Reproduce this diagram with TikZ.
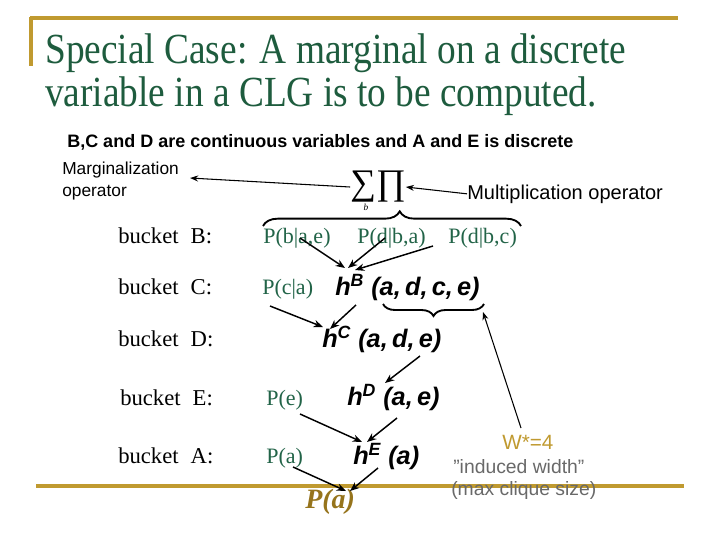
\documentclass[tikz,border=0pt]{standalone}
\usepackage{fontspec}
\setmainfont{Liberation Serif}
\newfontfamily\arial{Liberation Sans}
\usetikzlibrary{arrows.meta,calc,decorations.pathreplacing}
\definecolor{titlegreen}{RGB}{30,92,62}
\definecolor{pgreen}{RGB}{34,100,72}
\definecolor{gold}{RGB}{192,154,48}
\definecolor{pgold}{RGB}{150,116,28}
\definecolor{wgray}{RGB}{105,105,105}
\begin{document}
\begin{tikzpicture}[x=0.75pt,y=-0.75pt,
  txt/.style={anchor=base west,inner sep=0pt},
  bucketlbl/.style={txt,font=\fontsize{17}{19}\selectfont},
  ptxt/.style={txt,text=pgreen,font=\fontsize{16.5}{18}\selectfont},
  htxt/.style={txt,font=\arial\fontsize{19}{21}\selectfont\bfseries\itshape},
  wtxt/.style={txt,font=\arial\fontsize{14.5}{16}\selectfont},
  arr/.style={-{Stealth[length=7pt,width=5.5pt]},line width=1.1pt},
  thinarr/.style={-{Stealth[length=6pt,width=4.5pt]},line width=0.8pt},
  goldline/.style={gold,line width=2.3pt},
  bracestyle/.style={decorate,line width=1.4pt}]
\useasboundingbox (0,0) rectangle (720,540);
\fill[white] (0,0) rectangle (720,540);
% frame lines
\draw[goldline] (30,18) -- (678,18);
\draw[goldline] (31,17) -- (31,66);
\draw[goldline] (36,486) -- (684,486);
% title
\node[txt,text=titlegreen,font=\fontsize{28}{30}\selectfont] (t1) at (45,63) {\scalebox{1}[1.15]{Special Case: A marginal on a discrete}};
\node[txt,text=titlegreen,font=\fontsize{28}{30}\selectfont] (t2) at (45,106) {\scalebox{1}[1.15]{variable in a CLG is to be computed.}};
\node[txt,font=\arial\bfseries\fontsize{13.5}{15}\selectfont] (sub) at (67,147) {B,C and D are continuous variables and A and E is discrete};
% operators
\node[anchor=north west,inner sep=0pt,align=left,font=\arial\fontsize{13}{16}\selectfont] (marg) at (62,162) {Marginalization\\operator};
\node[inner sep=0pt,font=\fontsize{27}{27}\selectfont] (sp) at (378,187) {∑∏};
\node[inner sep=0pt,font=\itshape\fontsize{7}{7}\selectfont] (sb) at (366,207) {b};
\node[txt,font=\arial\fontsize{15}{17}\selectfont] (mult) at (467,199) {Multiplication operator};
\draw[thinarr] (sp.west) -- ($(marg.east)+(11,-3)$);
\draw[thinarr] (mult.west) -- (sp.east);
% braces
\coordinate (b1l) at (263,226);
\coordinate (b1r) at (521,226);
\draw[bracestyle,decoration={brace,amplitude=11pt,aspect=0.53}] (b1l) -- (b1r);
\coordinate (b2r) at (484,304);
\coordinate (b2l) at (383,304);
\draw[bracestyle,decoration={brace,amplitude=9pt}] (b2r) -- (b2l);
% bucket labels
\node[bucketlbl] (bB) at (118,243) {bucket\hspace{9pt}B:};
\node[bucketlbl] (bC) at (118,294) {bucket\hspace{9pt}C:};
\node[bucketlbl] (bD) at (118,346) {bucket\hspace{9pt}D:};
\node[bucketlbl] (bE) at (120,405) {bucket\hspace{9pt}E:};
\node[bucketlbl] (bA) at (118,463) {bucket\hspace{9pt}A:};
% probability texts
\node[ptxt] (pba) at (263,243) {P(b|a,e)};
\node[ptxt] (pdba) at (357,243) {P(d|b,a)};
\node[ptxt] (pdbc) at (448,243) {P(d|b,c)};
\node[ptxt] (pca) at (262,294) {P(c|a)};
\node[ptxt] (pe) at (266,405) {P(e)};
\node[ptxt] (pa) at (266,463) {P(a)};
% h functions
\node[htxt] (hB) at (335,295) {h\textsuperscript{B} (a,\,d,\,c,\,e)};
\node[htxt] (hC) at (322,347) {h\textsuperscript{C} (a,\,d,\,e)};
\node[htxt] (hD) at (347,405) {h\textsuperscript{D} (a,\,e)};
\node[htxt] (hE) at (353,464) {h\textsuperscript{E} (a)};
\node[txt,text=pgold,font=\fontsize{21}{23}\selectfont\bfseries\itshape] (pab) at (305,508) {P(a)};
% width annotation
\node[wtxt,text=gold,font=\arial\fontsize{15.5}{17}\selectfont] (w) at (502,449) {W*=4};
\node[wtxt,text=wgray] (ind) at (453,473) {”induced width”};
\node[wtxt,text=wgray] (mcs) at (451,495) {(max clique size)};
% arrows
\draw[arr] ($(pba.base west)+(37,-5)$) -- ($(hB.base west)+(10,-27)$);
\draw[arr] ($(pdba.base west)+(28,-5)$) -- ($(hB.base west)+(13,-27)$);
\draw[arr] ($(pdbc.base west)+(-15,3)$) -- ($(hB.base west)+(20,-25)$);
\draw[arr] ($(pca.base west)+(8,12)$) -- ($(hC.base west)+(1,-20)$);
\draw[arr] ($(hB.base west)+(21,10)$) -- ($(hC.base west)+(8,-18)$);
\draw[arr] ($(hC.base west)+(98,9)$) -- ($(hD.base west)+(38,-22)$);
\draw[arr] ($(pe.base west)+(34,9)$) -- ($(hE.base west)+(9,-22)$);
\draw[arr] ($(hD.base west)+(50,13)$) -- ($(hE.base west)+(14,-22)$);
\draw[arr] ($(pa.base west)+(27,4)$) -- ($(pab.base west)+(41,-17)$);
\draw[arr] ($(hE.base west)+(25,4)$) -- ($(pab.base west)+(45,-17)$);
\draw[thinarr] ($(w.base west)+(19,-21)$) -- ($(b2r)+(-1,8)$);
\end{tikzpicture}
\end{document}
